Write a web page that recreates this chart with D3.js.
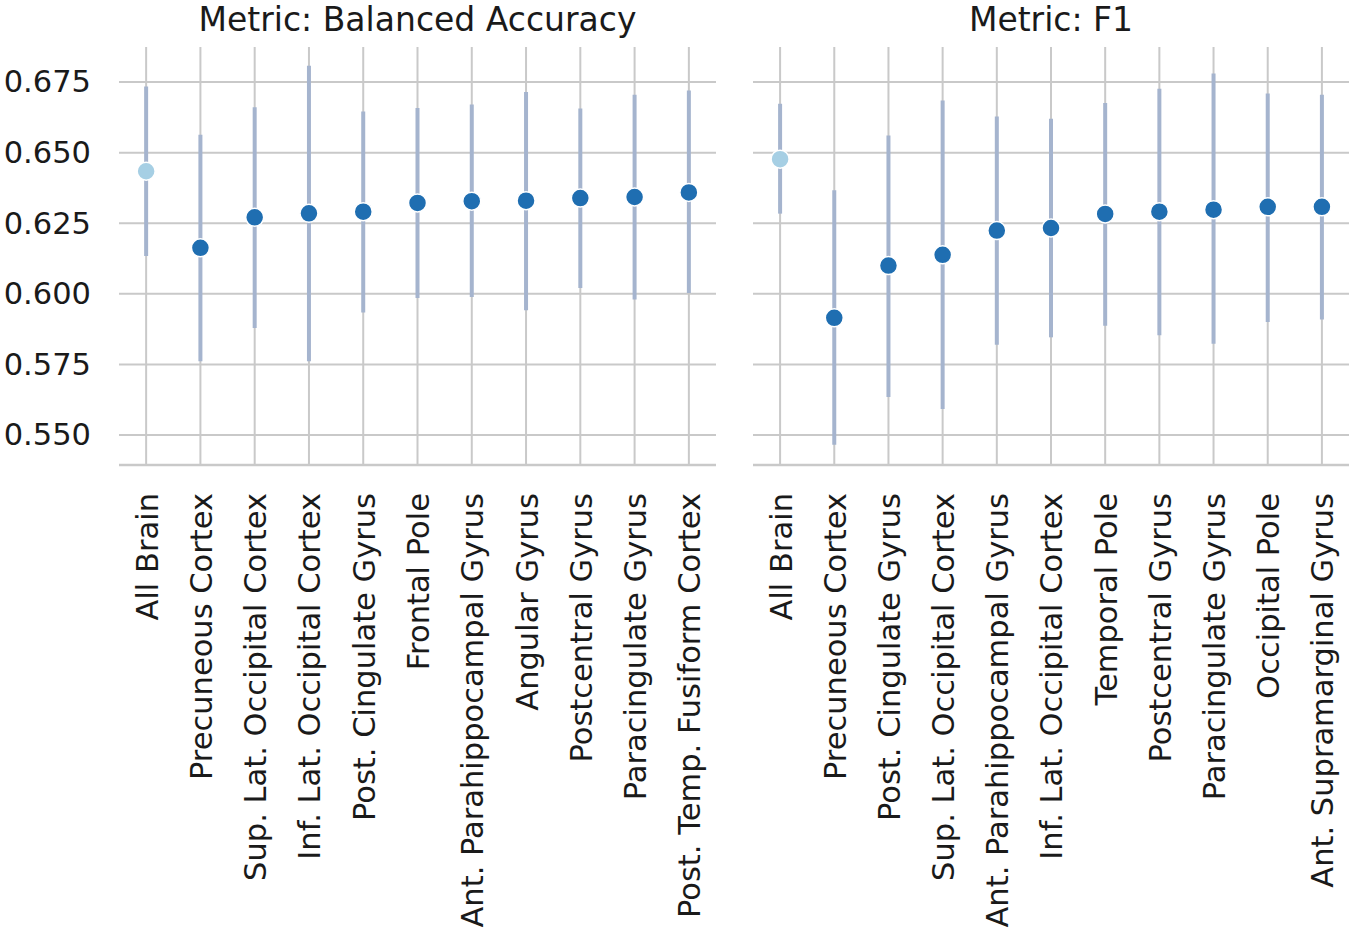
<!DOCTYPE html>
<html>
<head>
<meta charset="utf-8">
<script src="https://cdn.jsdelivr.net/npm/d3@7"></script>
<style>
  body { margin: 0; background: white; }
  text { font-family: "DejaVu Sans", sans-serif; fill: #1a1a1a; }
</style>
</head>
<body>
<svg id="canvas" width="1358" height="935"></svg>
<script>
// data
var acc_regions = ['All Brain', 'Precuneous Cortex', 'Sup. Lat. Occipital Cortex', 'Inf. Lat. Occipital Cortex',
  'Post. Cingulate Gyrus', 'Frontal Pole', 'Ant. Parahippocampal Gyrus', 'Angular Gyrus',
  'Postcentral Gyrus', 'Paracingulate Gyrus', 'Post. Temp. Fusiform Cortex'];
var acc_mean = [0.6434, 0.6163, 0.6271, 0.6285, 0.6291, 0.6322, 0.6328, 0.6330, 0.6339, 0.6343, 0.6359];
var acc_low  = [0.6134, 0.5761, 0.5879, 0.5761, 0.5934, 0.5985, 0.5989, 0.5942, 0.6021, 0.5980, 0.6003];
var acc_high = [0.6734, 0.6563, 0.6661, 0.6808, 0.6646, 0.6658, 0.6670, 0.6715, 0.6656, 0.6705, 0.6720];

var f1_regions = ['All Brain', 'Precuneous Cortex', 'Post. Cingulate Gyrus', 'Sup. Lat. Occipital Cortex',
  'Ant. Parahippocampal Gyrus', 'Inf. Lat. Occipital Cortex', 'Temporal Pole', 'Postcentral Gyrus',
  'Paracingulate Gyrus', 'Occipital Pole', 'Ant. Supramarginal Gyrus'];
var f1_mean = [0.6477, 0.5915, 0.6100, 0.6138, 0.6224, 0.6233, 0.6283, 0.6291, 0.6298, 0.6308, 0.6308];
var f1_low  = [0.6284, 0.5466, 0.5635, 0.5592, 0.5820, 0.5846, 0.5887, 0.5853, 0.5823, 0.5900, 0.5909];
var f1_high = [0.6673, 0.6367, 0.6561, 0.6685, 0.6628, 0.6620, 0.6676, 0.6726, 0.6780, 0.6709, 0.6705];

var y_ticks = [0.550, 0.575, 0.600, 0.625, 0.650, 0.675];
var y_domain = [0.5394, 0.6874];

var grid_color = '#c9c9c9';
var bar_color = '#a5b4ce';
var dot_color = '#1f6eb1';
var ref_color = '#a6cfe4';
var font_size = 30.5;
var title_size = 33;

var svg = d3.select('#canvas');

function Panel(title, regions, mean, low, high, x0, x1, showY){
  this.title = title;
  this.regions = regions;
  this.mean = mean;
  this.low = low;
  this.high = high;
  this.x0 = x0;
  this.x1 = x1;
  this.showY = showY;

  this.top = 47;
  this.bottom = 465;

  this.setup();
}

// ************************************************************************************************** //
// Setup

Panel.prototype.setup = function(){
  this.xScale = d3.scalePoint().domain(this.regions).range([this.x0, this.x1]).padding(0.5);
  this.yScale = d3.scaleLinear().domain(y_domain).range([this.bottom, this.top]);
  this.g = svg.append('g');
}

// ************************************************************************************************** //
// Grid and axes

Panel.prototype.drawAxes = function(){
  var x = this.xScale, y = this.yScale;

  // horizontal grid
  this.g.append('g').selectAll('line').data(y_ticks).join('line')
    .attr('x1', this.x0).attr('x2', this.x1)
    .attr('y1', d => y(d)).attr('y2', d => y(d))
    .style('stroke', grid_color).style('stroke-width', 2);

  // vertical grid
  this.g.append('g').selectAll('line').data(this.regions).join('line')
    .attr('x1', d => x(d)).attr('x2', d => x(d))
    .attr('y1', this.top).attr('y2', this.bottom)
    .style('stroke', grid_color).style('stroke-width', 2);

  // bottom spine
  this.g.append('line')
    .attr('x1', this.x0).attr('x2', this.x1).attr('y1', this.bottom).attr('y2', this.bottom)
    .style('stroke', grid_color).style('stroke-width', 2.5);

  // x labels, rotated
  var xAxis = this.g.append('g').attr('transform', 'translate(0,' + (this.bottom + 28) + ')')
    .call(d3.axisBottom(x).tickSize(0).tickPadding(0));
  xAxis.select('.domain').remove();
  xAxis.selectAll('text')
    .attr('transform', 'rotate(-90)')
    .attr('x', 0).attr('y', 0).attr('dy', '0.36em')
    .style('text-anchor', 'end')
    .style('font-size', font_size + 'px')
    .style('font-family', '"DejaVu Sans", sans-serif')
    .style('fill', '#1a1a1a');

  if(this.showY){
    var yAxis = this.g.append('g').attr('transform', 'translate(' + (this.x0 - 28) + ',0)')
      .call(d3.axisLeft(y).tickValues(y_ticks).tickFormat(d3.format('.3f')).tickSize(0).tickPadding(0));
    yAxis.select('.domain').remove();
    yAxis.selectAll('text')
      .style('font-size', font_size + 'px')
      .style('font-family', '"DejaVu Sans", sans-serif')
      .style('fill', '#1a1a1a');
  }

  this.g.append('text')
    .attr('x', (this.x0 + this.x1) / 2).attr('y', 31)
    .attr('text-anchor', 'middle')
    .style('font-size', title_size + 'px')
    .text(this.title);
}

// ************************************************************************************************** //
// Error bars and points

Panel.prototype.drawMarks = function(){
  var x = this.xScale, y = this.yScale;
  var rows = this.regions.map((r, i) => ({ region: r, mean: this.mean[i], low: this.low[i], high: this.high[i], i: i }));

  this.g.append('g').selectAll('line').data(rows).join('line')
    .attr('x1', d => x(d.region)).attr('x2', d => x(d.region))
    .attr('y1', d => y(d.low)).attr('y2', d => y(d.high))
    .style('stroke', bar_color).style('stroke-width', 4);

  this.g.append('g').selectAll('circle').data(rows).join('circle')
    .attr('cx', d => x(d.region)).attr('cy', d => y(d.mean))
    .attr('r', 9)
    .style('fill', d => d.i == 0 ? ref_color : dot_color)
    .style('stroke', 'white').style('stroke-width', 1.5);
}

var left = new Panel('Metric: Balanced Accuracy', acc_regions, acc_mean, acc_low, acc_high, 119, 716, true);
left.drawAxes();
left.drawMarks();

var right = new Panel('Metric: F1', f1_regions, f1_mean, f1_low, f1_high, 753, 1349, false);
right.drawAxes();
right.drawMarks();
</script>
</body>
</html>
